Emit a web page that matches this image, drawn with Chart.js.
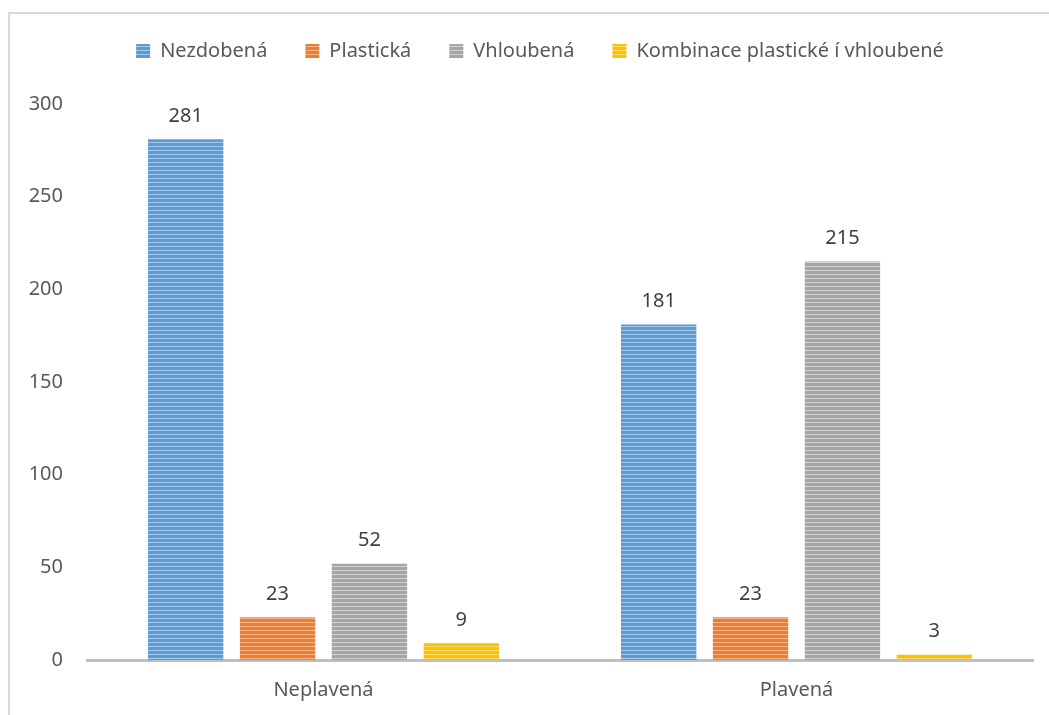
<!DOCTYPE html>
<html>
<head>
<meta charset="utf-8">
<script src="https://cdn.jsdelivr.net/npm/chart.js@4/dist/chart.umd.min.js"></script>
<style>
  html, body { margin: 0; padding: 0; background: #fff; overflow: hidden; }
  #frame { position: absolute; left: 8px; top: 12px; width: 1100px; height: 800px; border: 2px solid #D9D9D9; }
  #wrap { position: absolute; left: 0; top: 0; width: 1049px; height: 715px; }
</style>
</head>
<body>
<div id="frame"></div>
<div id="wrap"><canvas id="myChart" width="1049" height="715"></canvas></div>
<script>
// data
const categories = ['Neplavená', 'Plavená'];
const seriesNames = ['Nezdobená', 'Plastická', 'Vhloubená', 'Kombinace plastické í vhloubené'];
const nezdobena = [281, 181];
const plasticka = [23, 23];
const vhloubena = [52, 215];
const kombinace = [9, 3];
const yTicks = [0, 50, 100, 150, 200, 250, 300];

// striped fill like the office chart
function stripes(base, light) {
    const c = document.createElement('canvas');
    c.width = 4; c.height = 4;
    const g = c.getContext('2d');
    g.fillStyle = base;
    g.fillRect(0, 0, 4, 4);
    g.fillStyle = light;
    g.fillRect(0, 2, 4, 1);
    return g.createPattern(c, 'repeat');
}

const fills = [
    stripes('#5B9BD5', '#A7C9EA'),
    stripes('#ED7D31', '#F5B48A'),
    stripes('#A5A5A5', '#D2D2D2'),
    stripes('#FFC000', '#FFDD73')
];
const values = [nezdobena, plasticka, vhloubena, kombinace];

// value labels over the bars
const barLabels = {
    id: 'barLabels',
    afterDatasetsDraw(chart) {
        const ctx = chart.ctx;
        ctx.save();
        ctx.font = '20px "Noto Sans"';
        ctx.fillStyle = '#404040';
        ctx.textAlign = 'center';
        ctx.textBaseline = 'middle';
        chart.data.datasets.forEach((ds, i) => {
            chart.getDatasetMeta(i).data.forEach((bar, j) => {
                ctx.fillText(ds.data[j], bar.x, bar.y - 23);
            });
        });
        ctx.restore();
    }
};

// extra room under the legend, and nudge it right a bit
const legendGap = {
    id: 'legendGap',
    beforeInit(chart) {
        const fit = chart.legend.fit;
        chart.legend.fit = function () {
            fit.bind(chart.legend)();
            this.height += 33;
        };
    },
    afterLayout(chart) {
        chart.legend.left += 20;
        chart.legend.right += 20;
    }
};

const ctx = document.getElementById('myChart').getContext('2d');

new Chart(ctx, {
    type: 'bar',
    data: {
        labels: categories,
        datasets: seriesNames.map((name, i) => ({
            label: name,
            data: values[i],
            backgroundColor: fills[i],
            borderWidth: 0,
            categoryPercentage: 0.777,
            barPercentage: 0.82
        }))
    },
    options: {
        responsive: false,
        animation: false,
        layout: { padding: { left: 7, right: 16, top: 3, bottom: 0 } },
        scales: {
            y: {
                min: 0,
                max: 300,
                afterBuildTicks: (s) => { s.ticks = yTicks.map(v => ({ value: v })); },
                afterFit: (s) => { s.width = 80; },
                grid: { display: false, drawTicks: false },
                border: { display: false },
                ticks: { color: '#595959', font: { family: 'Noto Sans', size: 20 }, padding: 24 }
            },
            x: {
                afterFit: (s) => { s.height = 55; },
                grid: { display: false, drawTicks: false },
                border: { color: '#BFBFBF', width: 3 },
                ticks: { color: '#595959', font: { family: 'Noto Sans', size: 20 }, padding: 18 }
            }
        },
        plugins: {
            legend: {
                position: 'top',
                labels: {
                    color: '#595959',
                    font: { family: 'Noto Sans', size: 20 },
                    boxWidth: 14,
                    boxHeight: 14,
                    padding: 38
                }
            },
            tooltip: { enabled: false }
        }
    },
    plugins: [barLabels, legendGap]
});
</script>
</body>
</html>
